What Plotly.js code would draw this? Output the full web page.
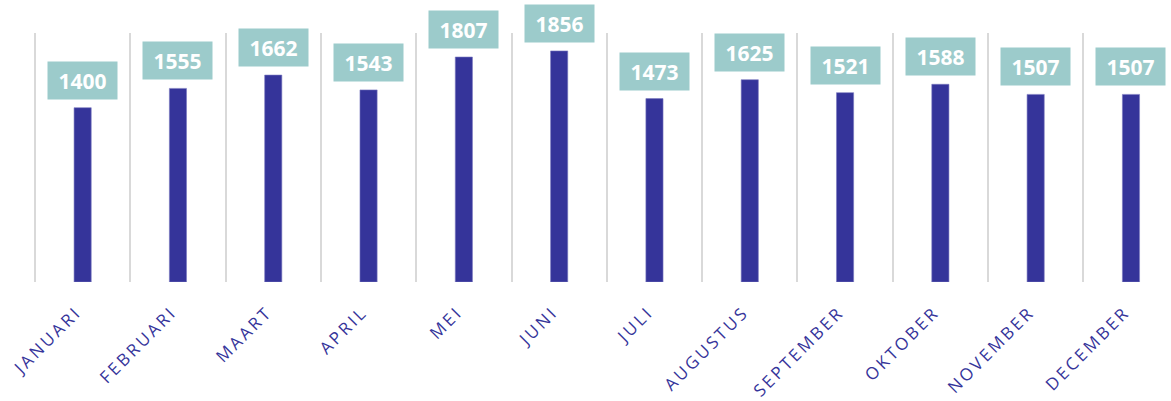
<!DOCTYPE html>
<html>
<head>
<meta charset="utf-8">
<script src="https://cdn.plot.ly/plotly-3.0.1.min.js"></script>
<style>
html,body{margin:0;padding:0;background:#fff;}
#chart{width:1171px;height:401px;}
.xtick text{letter-spacing:2.8px;}
</style>
</head>
<body>
<div id="chart"></div>
<script>
const months = ["JANUARI","FEBRUARI","MAART","APRIL","MEI","JUNI","JULI","AUGUSTUS","SEPTEMBER","OKTOBER","NOVEMBER","DECEMBER"];
const values = [1400,1555,1662,1543,1807,1856,1473,1625,1521,1588,1507,1507];

const trace = {
  type: "bar",
  x: months,
  y: values,
  width: 0.18,
  marker: {color: "#35349a", line: {color: "#7a79c0", width: 0.6}},
  hoverinfo: "none"
};

const annotations = months.map((m, i) => ({
  x: m, y: values[i], xref: "x", yref: "y",
  text: "<b>" + values[i] + "</b>",
  showarrow: false,
  yanchor: "bottom", xanchor: "center",
  yshift: 8,
  width: 67, height: 35,
  bgcolor: "#9ccbcb",
  font: {family: "'Open Sans', sans-serif", size: 21, color: "#ffffff"}
}));

const layout = {
  width: 1171, height: 401,
  margin: {l: 35, r: 0, t: 33, b: 119},
  paper_bgcolor: "#ffffff", plot_bgcolor: "#ffffff",
  showlegend: false,
  xaxis: {
    type: "category",
    range: [-0.5, 11.42],
    tickson: "boundaries",
    showgrid: true, gridcolor: "#d9d9d9", gridwidth: 2,
    ticks: "", showline: false, zeroline: false,
    tickangle: -45,
    ticklabelstandoff: 16,
    ticklabelshift: -6,
    tickfont: {family: "'Open Sans', sans-serif", size: 17, color: "#35349a"}
  },
  yaxis: {
    range: [0, 2000],
    showgrid: false, zeroline: false, showline: false, showticklabels: false, ticks: ""
  },
  shapes: [{
    type: "line", xref: "paper", yref: "paper", x0: 0, x1: 0, y0: 0, y1: 1,
    line: {color: "#d9d9d9", width: 2}, layer: "below"
  }],
  annotations: annotations
};

Plotly.newPlot("chart", [trace], layout, {staticPlot: true, displayModeBar: false});
</script>
</body>
</html>
